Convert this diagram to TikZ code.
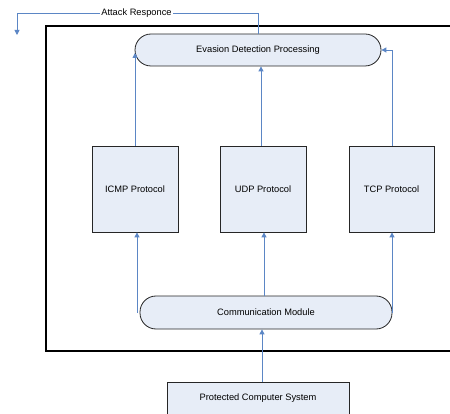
\documentclass[tikz,border=0pt]{standalone}
\usepackage{fontspec}
\setmainfont{Liberation Sans}
\usetikzlibrary{arrows.meta}
\definecolor{lineblue}{HTML}{5B86C5}
\definecolor{boxfill}{HTML}{E7EDF7}
\begin{document}
\begin{tikzpicture}[x=1pt,y=-1pt,
  font=\fontsize{9.3}{11}\selectfont,
  box/.style={draw=black!85,line width=0.8pt,fill=boxfill,inner sep=0pt,align=center},
  stadium/.style={box,rounded corners=16pt},
  conn/.style={draw=lineblue,line width=0.9pt,-{Triangle[length=5pt,width=5pt]}}]
\useasboundingbox (0,0) rectangle (450,414);
\draw[black,line width=1.6pt] (46,26) rectangle (470,351);
\node[stadium,minimum width=246pt,minimum height=32pt] (edp) at (258,50) {Evasion Detection Processing};
\node[box,minimum width=86pt,minimum height=86pt] (icmp) at (135,189) {ICMP Protocol};
\node[box,minimum width=86pt,minimum height=86pt] (udp) at (263,189) {UDP Protocol};
\node[box,minimum width=85pt,minimum height=86pt] (tcp) at (391.5,189) {TCP Protocol};
\node[stadium,minimum width=252pt,minimum height=33pt] (cm) at (266,312.5) {Communication Module};
\node[box,minimum width=182pt,minimum height=32pt] (pcs) at (258,398) {Protected Computer System};
% upward arrows to EDP
\draw[conn] (icmp.north) -- ([yshift=-3pt]icmp.north |- edp.west);
\draw[conn] ([xshift=-2pt]udp.north) -- ([xshift=-2pt]udp.north |- edp.south);
\draw[conn] ([xshift=0.5pt]tcp.north) -- ([xshift=0.5pt]tcp.north |- edp.east) -- (edp.east);
% arrows from communication module
\coordinate (c1) at (137,313);
\coordinate (c2) at (264,296);
\coordinate (c3) at (392,313);
\draw[conn] (c1) -- (c1 |- icmp.south);
\draw[conn] (c2) -- (c2 |- udp.south);
\draw[conn] (c3) -- (c3 |- tcp.south);
\coordinate (p1) at (262,382);
\draw[conn] (p1) -- (p1 |- cm.south);
% attack response
\coordinate (ar1) at (258,13);
\coordinate (ar2) at (17,13);
\coordinate (ar3) at (17,35);
\draw[conn] (edp.north -| ar1) -- (ar1) -- (ar2) -- (ar3);
\node[fill=white,inner sep=1pt] (arl) at (136.5,13) {Attack Responce};
\end{tikzpicture}
\end{document}
